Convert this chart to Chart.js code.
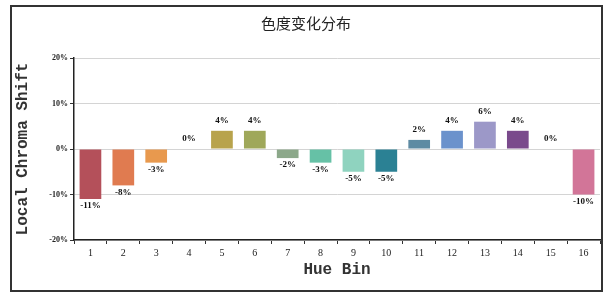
<!DOCTYPE html>
<html>
<head>
<meta charset="utf-8">
<script src="https://cdn.jsdelivr.net/npm/chart.js@4.4.1/dist/chart.umd.min.js"></script>
<style>
  html, body { margin: 0; padding: 0; background: #fff; }
  #wrap { position: relative; width: 611px; height: 295px; }
  #frame { position: absolute; left: 10px; top: 5px; width: 589px; height: 283px; border: 2px solid #333; pointer-events: none; }
</style>
</head>
<body>
<div id="wrap">
  <canvas id="chart" width="611" height="295"></canvas>
  <div id="frame"></div>
</div>
<script>
const hueBins = ['1', '2', '3', '4', '5', '6', '7', '8', '9', '10', '11', '12', '13', '14', '15', '16'];
const chromaShift = [-11, -8, -3, 0, 4, 4, -2, -3, -5, -5, 2, 4, 6, 4, 0, -10];
const barColors = ['#b4505a', '#e07b50', '#e8994e', '#c9a24e', '#b8a34c', '#9fa85a', '#8ca88a', '#66c1a6',
  '#8fd3bf', '#2b8194', '#5e8ba3', '#6b92cc', '#9c98c8', '#7a4a8c', '#c58aa0', '#d27598'];
const yTicks = [-20, -10, 0, 10, 20];

// value labels above / below each bar
const valueLabels = {
  id: 'valueLabels',
  afterDatasetsDraw(chart) {
    const ctx = chart.ctx;
    const meta = chart.getDatasetMeta(0);
    ctx.save();
    ctx.font = 'bold 9px "Liberation Serif", serif';
    ctx.fillStyle = '#111';
    ctx.textAlign = 'center';
    ctx.textBaseline = 'middle';
    meta.data.forEach((bar, i) => {
      const v = chromaShift[i];
      const y = v < 0 ? bar.y + 7 : bar.y - 10;
      ctx.fillText(v + '%', bar.x, y);
    });
    ctx.restore();
  }
};

new Chart(document.getElementById('chart'), {
  type: 'bar',
  data: {
    labels: hueBins,
    datasets: [{
      data: chromaShift,
      backgroundColor: barColors,
      borderWidth: 0,
      barPercentage: 0.66,
      categoryPercentage: 1.0
    }]
  },
  options: {
    responsive: false,
    animation: false,
    layout: { padding: { top: 10, left: 12, right: 11, bottom: 15 } },
    plugins: {
      legend: { display: false },
      tooltip: { enabled: false },
      title: {
        display: true,
        text: '色度变化分布',
        color: '#222',
        font: { family: '"Noto Sans CJK SC", sans-serif', size: 15, weight: 'normal' },
        padding: { top: 4, bottom: 26 }
      }
    },
    scales: {
      x: {
        offset: true,
        grid: { offset: true, drawOnChartArea: false, drawTicks: true, tickLength: 4, color: '#333' },
        border: { color: '#222', width: 1.5 },
        ticks: { color: '#222', font: { family: '"Liberation Serif", serif', size: 10 }, padding: 3, maxRotation: 0 },
        title: {
          display: true,
          text: 'Hue Bin',
          color: '#333',
          font: { family: '"Liberation Mono", monospace', size: 16, weight: 'bold' },
          padding: { top: 2, bottom: 0 }
        },
        afterFit(scale) { scale.height = 40; }
      },
      y: {
        min: -20,
        max: 20,
        afterBuildTicks(scale) { scale.ticks = yTicks.map(v => ({ value: v })); },
        grid: { color: '#d4d4d4', lineWidth: 1, tickLength: 4, tickColor: '#333' },
        border: { color: '#222', width: 1.5 },
        ticks: {
          color: '#222',
          font: { family: '"Liberation Serif", serif', size: 8, weight: 'bold' },
          padding: 2,
          callback: v => v + '%'
        },
        title: {
          display: true,
          text: 'Local Chroma Shift',
          color: '#333',
          font: { family: '"Liberation Mono", monospace', size: 16, weight: 'bold' },
          padding: { top: 1, bottom: 4 }
        },
        afterFit(scale) { scale.width = 62; }
      }
    }
  },
  plugins: [valueLabels]
});
</script>
</body>
</html>
